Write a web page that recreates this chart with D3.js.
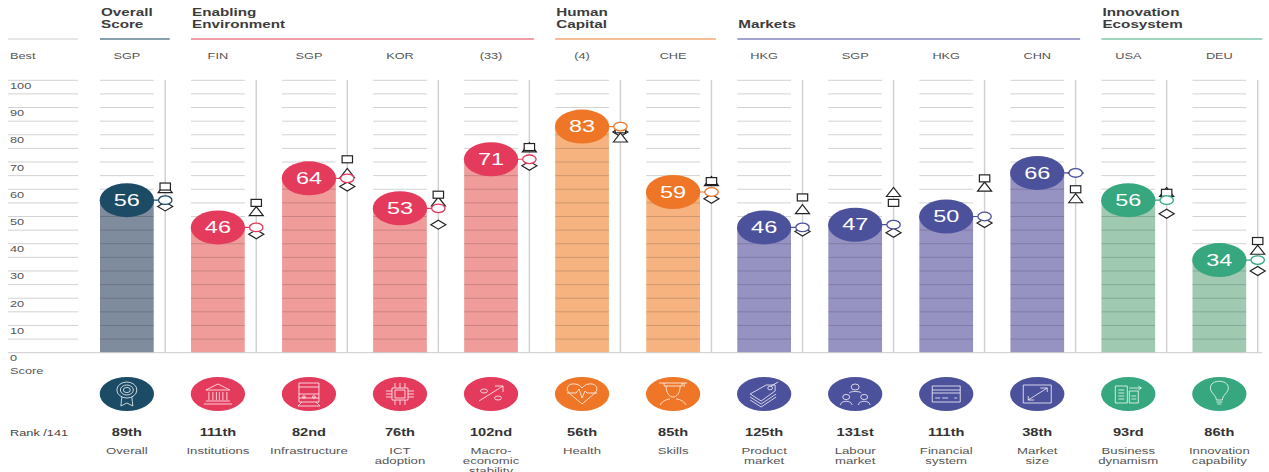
<!DOCTYPE html>
<html><head><meta charset="utf-8">
<script src="https://d3js.org/d3.v7.min.js"></script>
<style>html,body{margin:0;padding:0;background:#fff}svg{display:block}text{font-family:"Liberation Sans",Arial,sans-serif}</style>
</head><body><svg id="c" width="1269" height="472"></svg>
<script>
const groups = ["overall","enabling","human","markets","innovation"];
const groupTitles = [["Overall","Score"],["Enabling","Environment"],["Human","Capital"],["Markets"],["Innovation","Ecosystem"]];
const groupSpans = [[0,0],[1,4],[5,6],[7,10],[11,12]];
const groupDark = ["#1c4b66","#e43b5c","#ef7627","#4c519c","#36a77e"];
const groupBar = ["#7f8c9e","#f09c9b","#f6b37f","#9693c3","#9fc9b1"];
const groupRule = ["#5f8193","#ee7f90","#f5a872","#8585c0","#7fc6a8"];
const columnGroup = [0,1,1,1,1,2,2,3,3,3,3,4,4];
const best = ["SGP","FIN","SGP","KOR","(33)","(4)","CHE","HKG","SGP","HKG","CHN","USA","DEU"];
const scores = [56,46,64,53,71,83,59,46,47,50,66,56,34];
const squareVals = [61,55,71,58,75.5,82,63,57,55,64,60,58.7,41];
const triangleVals = [60.4,52,66,55.5,75.4,79,63,52.7,59,61,56.7,59,37.8];
const diamondVals = [53.7,43.5,61,47,68.6,81,56.5,44.5,44,47.6,66,51,30];
const ranks = ["89th","111th","82nd","76th","102nd","56th","85th","125th","131st","111th","38th","93rd","86th"];
const labels = [["Overall"],["Institutions"],["Infrastructure"],["ICT","adoption"],["Macro-","economic","stability"],["Health"],["Skills"],["Product","market"],["Labour","market"],["Financial","system"],["Market","size"],["Business","dynamism"],["Innovation","capability"]];
const yTicks = [0,10,20,30,40,50,60,70,80,90,100];
const gridVals = d3.range(5,101,5);

function P(g,d){g.append("path").attr("d",d);}
function E(g,cx,cy,rx,ry){g.append("ellipse").attr("cx",cx).attr("cy",cy).attr("rx",rx).attr("ry",ry);}
const icons = [
  g=>{E(g,0,-4,10,8);E(g,0,-4,6.5,5);E(g,0,-4,3.5,2.6);P(g,"M-5,3L-6,12L0,9L6,12L5,3");},
  g=>{P(g,"M-12,-4L0,-10L12,-4Z");P(g,"M-9,-2V6M-5,-2V6M-1.5,-2V6M1.5,-2V6M5,-2V6M9,-2V6");P(g,"M-12,7H12M-14,10H14");},
  g=>{P(g,"M-10,-11H10V8H-10Z");P(g,"M-10,-7H10M-10,0H10M-10,4H10");E(g,-5,3,1.5,1.2);E(g,5,3,1.5,1.2);P(g,"M-7,8L-11,12H11L7,8");},
  g=>{P(g,"M-8,-6H8V6H-8Z");P(g,"M-5,-4H5V4H-5Z");P(g,"M-5,-6V-11M0,-6V-11M5,-6V-11M-5,6V11M0,6V11M5,6V11M-8,-3H-14M-8,0H-14M-8,3H-14M8,-3H14M8,0H14M8,3H14");},
  g=>{P(g,"M-12,7L12,-8M4,-8H12V-2");E(g,-7,-3,3.5,2);E(g,7,4,3.5,2);},
  g=>{P(g,"M0,10L-13,-1C-18,-7 -12,-11 -7,-10C-3,-10 -1,-7 0,-6C1,-7 3,-10 7,-10C12,-11 18,-7 13,-1Z");P(g,"M-15,-1H-6L-3,-5L0,4L3,-3L5,-1H15");},
  g=>{P(g,"M-14,-11H14M-9,-11V-8H9V-11M11,-11V-7");P(g,"M-7,-8C-7,0 -3,3 0,3C3,3 7,0 7,-8");P(g,"M-13,11C-10,6 -5,5 -3,5M13,11C10,6 5,5 3,5");},
  g=>{P(g,"M-14,0L2,-9H11V-3L-3,7Z");E(g,6,-6,2.4,1.8);P(g,"M-14,3L-3,10L12,0M-14,6L-3,13L12,3M7,-8L14,-12");},
  g=>{E(g,0,-7,4,3);P(g,"M-6,-1C-5,-3 5,-3 6,-1");E(g,-9,3,3.5,2.6);P(g,"M-15,11C-14,6 -4,6 -3,11");E(g,9,3,3.5,2.6);P(g,"M3,11C4,6 14,6 15,11");},
  g=>{P(g,"M-14,-8H14V8H-14Z");P(g,"M-14,-4H14M-14,-1H14M-11,4H-6M-4,4H2M8,4H11");},
  g=>{P(g,"M-14,-9H14V9H-14Z");P(g,"M-9,6L10,-6M3,-6H10V-2M-9,2V6H-3");},
  g=>{P(g,"M-13,-8H-1V9H-13Z");P(g,"M1,-3H10V9H1Z");P(g,"M-10,-4H-4M-10,-1H-4M-10,2H-4M-10,5H-4M3,2H8M3,5H8");P(g,"M1,-6H13M10,-8L13,-6L10,-4");},
  g=>{P(g,"M-3,6C-3,1 -9,-1 -9,-6C-9,-15 9,-15 9,-6C9,-1 3,1 3,6Z");P(g,"M-3,8H3M-2,10H2");}
];

const svg = d3.select("#c");
const y = d3.scaleLinear().domain([0,100]).range([352.7,80.3]);
const x = d3.scaleBand().domain(d3.range(13)).range([100,1246.2]).paddingInner(0.41).paddingOuter(0).align(0);
const bw = x.bandwidth();
const axisX = i => x(i)+bw+11.5;
function txt(px,py,s,o={}){
  return svg.append("text").attr("transform",`translate(${px},${py}) scale(${o.sx||1.45},1)`)
    .attr("text-anchor",o.anchor||"start").attr("font-size",o.size||9)
    .attr("font-weight",o.weight||"normal").attr("fill",o.fill||"#444").text(s);
}
// header
svg.append("line").attr("x1",8).attr("x2",78).attr("y1",39).attr("y2",39).attr("stroke","#ccc");
groups.forEach((g,k)=>{
  const [a,b]=groupSpans[k];
  const x0=x(a), x1= axisX(b)+4.5;
  svg.append("line").attr("x1",x0).attr("x2",x1).attr("y1",39).attr("y2",39).attr("stroke",groupRule[k]).attr("stroke-width",1.3);
  const t=groupTitles[k];
  t.forEach((s,j)=>txt(x0+1,(t.length==1?28:16)+(t.length==1?0:j*12),s,{weight:"bold",size:10.3,sx:1.48,fill:"#3c3c3c"}));
});
txt(10,59,"Best",{fill:"#555",size:8.8});
// left grid
gridVals.forEach(v=>svg.append("line").attr("x1",8).attr("x2",78).attr("y1",y(v)).attr("y2",y(v)).attr("stroke","#d2d2d2"));
yTicks.forEach(v=>txt(10,v==0?360.5:y(v)+8.5,v,{fill:"#555",size:8.8}));
txt(10,374,"Score",{fill:"#555",size:8.8});
txt(10,436,"Rank /141",{fill:"#444",size:8.8});
// columns
d3.range(13).forEach(i=>{
  const k=columnGroup[i], cx=x(i)+bw/2, ax=axisX(i);
  svg.append("rect").attr("x",x(i)).attr("y",y(scores[i])).attr("width",bw).attr("height",y(0)-y(scores[i])).attr("fill",groupBar[k]);
  gridVals.forEach(v=>svg.append("line").attr("x1",x(i)).attr("x2",x(i)+bw).attr("y1",y(v)).attr("y2",y(v)).attr("stroke",v<scores[i]?"#000":"#d2d2d2").attr("stroke-opacity",v<scores[i]?0.16:1));
  svg.append("line").attr("x1",ax).attr("x2",ax).attr("y1",80).attr("y2",y(0)).attr("stroke","#cfcfcf").attr("stroke-width",1.4);
  txt(cx,59,best[i],{anchor:"middle",fill:"#555",size:8.8});
  txt(cx,436,ranks[i],{anchor:"middle",weight:"bold",size:10.3,sx:1.42,fill:"#333"});
  labels[i].forEach((s,j)=>txt(cx,454+j*10.2,s,{anchor:"middle",size:8.8,sx:1.5,fill:"#555"}));
});
svg.append("line").attr("x1",8).attr("x2",1262).attr("y1",y(0)).attr("y2",y(0)).attr("stroke","#ccc");
// markers
const mk="#222";
d3.range(13).forEach(i=>{
  const k=columnGroup[i], ax=axisX(i), cx=x(i)+bw/2;
  const m=svg.append("g").attr("fill","#fff").attr("stroke",mk).attr("stroke-width",1.2);
  const sy=y(squareVals[i]), ty=y(triangleVals[i]), dy=y(diamondVals[i]);
  m.append("path").attr("d",`M${ax-7.5},${dy}L${ax},${dy-4.5}L${ax+7.5},${dy}L${ax},${dy+4.5}Z`);
  m.append("path").attr("d",`M${ax-7},${ty+4.5}L${ax},${ty-4.5}L${ax+7},${ty+4.5}Z`);
  m.append("rect").attr("x",ax-5.2).attr("y",sy-3.5).attr("width",10.4).attr("height",7);
  const sv=y(scores[i]);
  svg.append("line").attr("x1",cx).attr("x2",ax).attr("y1",sv).attr("y2",sv).attr("stroke",groupDark[k]).attr("stroke-width",1.1);
  svg.append("ellipse").attr("cx",ax).attr("cy",sv).attr("rx",6.7).attr("ry",4.3).attr("fill","#fff").attr("stroke",groupDark[k]).attr("stroke-width",1.3);
  svg.append("ellipse").attr("cx",cx).attr("cy",sv).attr("rx",bw/2+0.3).attr("ry",17).attr("fill",groupDark[k]);
  txt(cx,sv+5.7,scores[i],{anchor:"middle",size:16.2,sx:1.45,fill:"#fff"});
  svg.append("ellipse").attr("cx",cx).attr("cy",394).attr("rx",bw/2+0.3).attr("ry",17).attr("fill",groupDark[k]);
  const ic=svg.append("g").attr("transform",`translate(${cx},394)`).attr("fill","none").attr("stroke","#fff").attr("stroke-opacity",0.85).attr("stroke-width",0.9);
  icons[i](ic);
});
</script></body></html>
